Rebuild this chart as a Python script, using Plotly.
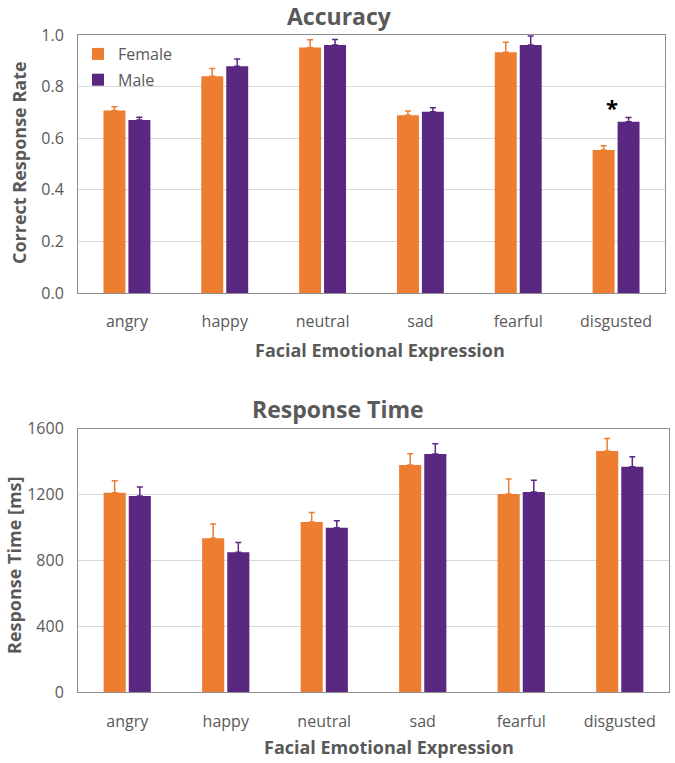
import plotly.graph_objects as go

# Data
emotions = ['angry', 'happy', 'neutral', 'sad', 'fearful', 'disgusted']

acc_female = [0.707, 0.840, 0.952, 0.689, 0.933, 0.554]
acc_female_err = [0.015, 0.030, 0.030, 0.016, 0.039, 0.017]
acc_male = [0.671, 0.879, 0.961, 0.703, 0.961, 0.664]
acc_male_err = [0.010, 0.028, 0.022, 0.015, 0.035, 0.016]

rt_female = [1211, 935, 1034, 1380, 1204, 1465]
rt_female_err = [73, 86, 58, 68, 91, 75]
rt_male = [1191, 850, 999, 1446, 1216, 1369]
rt_male_err = [55, 60, 43, 63, 71, 61]

W, H = 675, 763


def px(x):
    return x / W


def py(y):
    return 1 - y / H


def main():
    colors = {
        'female': '#ED7D31',
        'male': '#5A2781',
        'grid': '#D9D9D9',
        'frame': '#8C8C8C',
        'text': '#595959',
    }
    font_family = 'Open Sans'
    tickfont = dict(size=16, color=colors['text'], family=font_family)
    title_font = dict(size=23, color=colors['text'], family=font_family)
    axis_title_font = dict(size=18, color=colors['text'], family=font_family)

    fig = go.Figure()

    def add_pair(female, female_err, male, male_err, xaxis, yaxis, showlegend):
        for name, vals, errs, col in [('Female', female, female_err, colors['female']),
                                      ('Male', male, male_err, colors['male'])]:
            fig.add_trace(go.Bar(
                x=emotions, y=vals, name=name,
                marker=dict(color=col, line=dict(width=0)),
                error_y=dict(type='data', symmetric=False, array=errs,
                             arrayminus=[0] * len(errs),
                             color=col, thickness=1.5, width=3),
                xaxis=xaxis, yaxis=yaxis,
                showlegend=showlegend, legendgroup=name,
            ))

    add_pair(acc_female, acc_female_err, acc_male, acc_male_err, 'x', 'y', True)
    add_pair(rt_female, rt_female_err, rt_male, rt_male_err, 'x2', 'y2', False)

    axis_common = dict(
        showline=True, linecolor=colors['frame'], linewidth=1, mirror=True,
        tickfont=tickfont, ticks='', zeroline=False,
    )

    fig.update_layout(
        width=W, height=H,
        margin=dict(l=0, r=0, t=0, b=0, autoexpand=False),
        paper_bgcolor='white', plot_bgcolor='white',
        barmode='group', bargap=0.49, bargroupgap=0.12,
        xaxis=dict(domain=[px(78), px(665)], anchor='y', ticklabelstandoff=14, **axis_common),
        yaxis=dict(domain=[py(293), py(35)], anchor='x', range=[0, 1.0],
                   tickvals=[0, 0.2, 0.4, 0.6, 0.8, 1.0], tickformat='.1f',
                   showgrid=True, gridcolor=colors['grid'], gridwidth=1,
                   ticklabelstandoff=10, **axis_common),
        xaxis2=dict(domain=[px(78), px(669)], anchor='y2', ticklabelstandoff=14, **axis_common),
        yaxis2=dict(domain=[py(692.3), py(428.7)], anchor='x2', range=[0, 1600],
                    tickvals=[0, 400, 800, 1200, 1600],
                    showgrid=True, gridcolor=colors['grid'], gridwidth=1,
                    ticklabelstandoff=10, **axis_common),
        legend=dict(x=px(78), y=py(37), xanchor='left', yanchor='top',
                    bgcolor='rgba(0,0,0,0)', tracegroupgap=2,
                    font=dict(size=16, color=colors['text'], family=font_family),
                    itemwidth=30),
        showlegend=True,
    )

    annotations = [
        dict(text='<b>Accuracy</b>', x=px(340), y=py(16), xref='paper', yref='paper',
             showarrow=False, font=title_font, xanchor='center', yanchor='middle'),
        dict(text='<b>Response Time</b>', x=px(338), y=py(409), xref='paper', yref='paper',
             showarrow=False, font=title_font, xanchor='center', yanchor='middle'),
        dict(text='<b>Correct Response Rate</b>', x=px(19), y=py(163),
             xref='paper', yref='paper', textangle=-90, showarrow=False,
             font=axis_title_font, xanchor='center', yanchor='middle'),
        dict(text='<b>Response Time [ms]</b>', x=px(14), y=py(565),
             xref='paper', yref='paper', textangle=-90, showarrow=False,
             font=axis_title_font, xanchor='center', yanchor='middle'),
        dict(text='<b>Facial Emotional Expression</b>', x=px(380), y=py(350),
             xref='paper', yref='paper', showarrow=False,
             font=axis_title_font, xanchor='center', yanchor='middle'),
        dict(text='<b>Facial Emotional Expression</b>', x=px(389), y=py(747),
             xref='paper', yref='paper', showarrow=False,
             font=axis_title_font, xanchor='center', yanchor='middle'),
        dict(text='<b>*</b>', x='disgusted', y=0.72, xref='x', yref='y', xshift=-4,
             showarrow=False, font=dict(size=22, color='black', family=font_family),
             xanchor='center', yanchor='middle'),
    ]
    fig.update_layout(annotations=annotations)

    # drop the browser's default body margin so the figure fills the window
    fig.write_html('out.html', config={'displayModeBar': False},
                   post_script="document.body.style.margin='0px';")


if __name__ == '__main__':
    main()
